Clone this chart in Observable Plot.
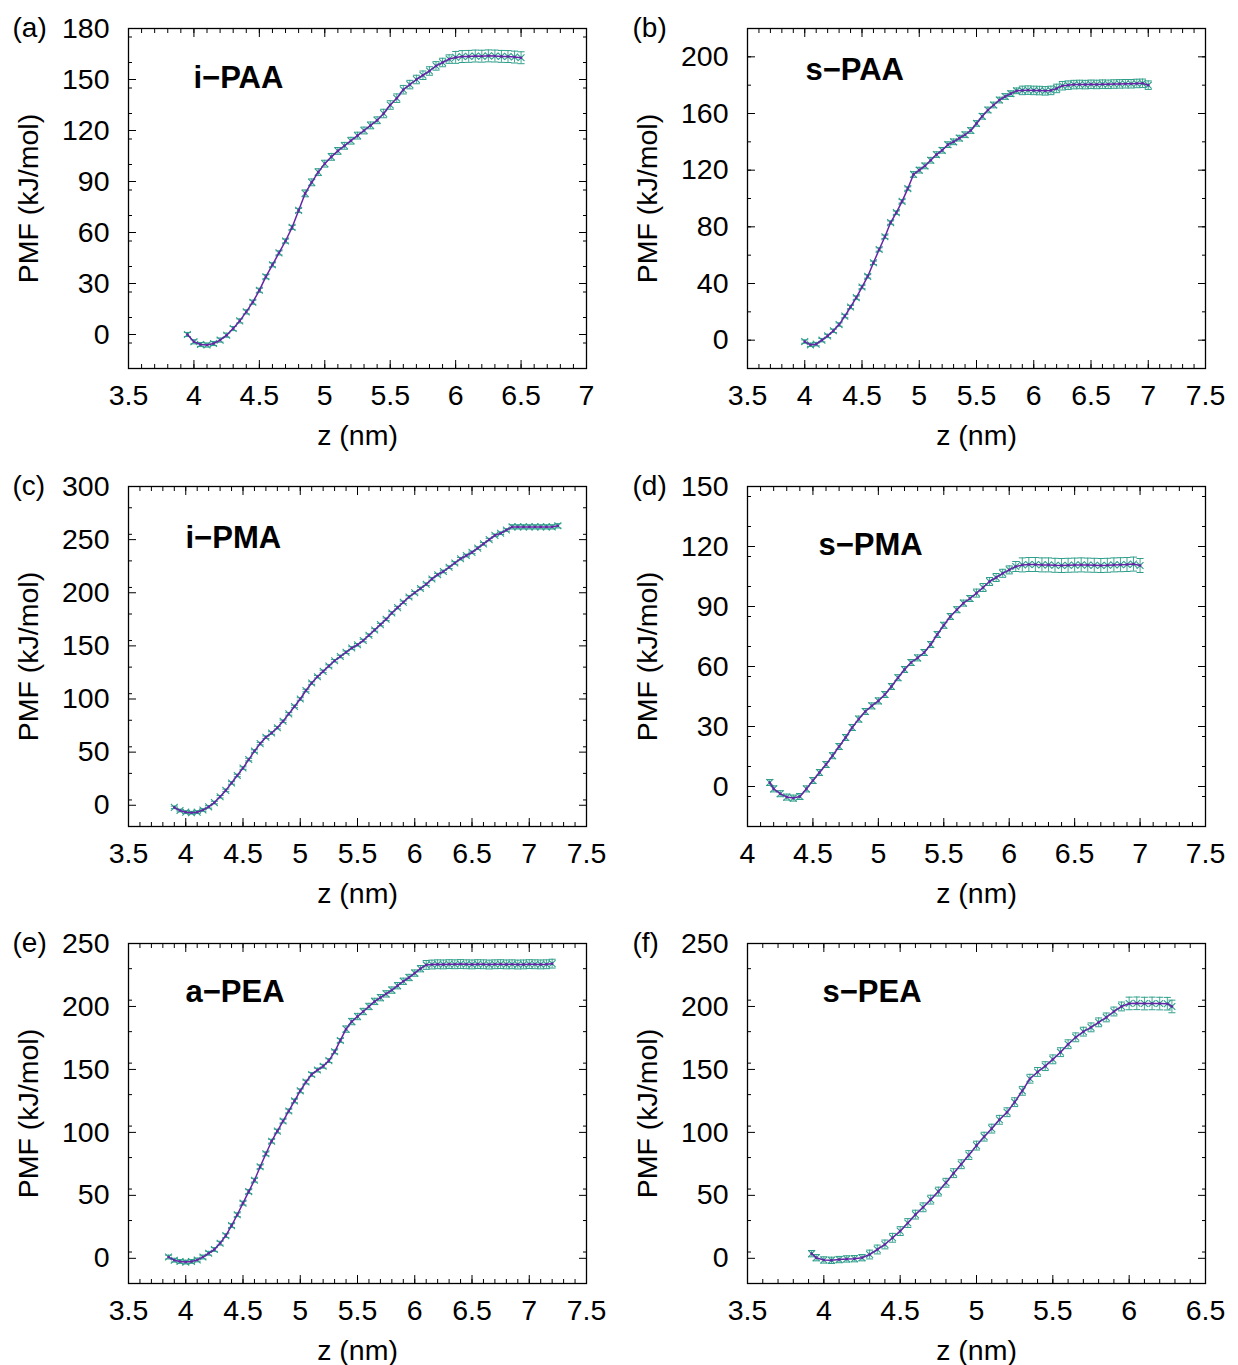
<!DOCTYPE html>
<html>
<head>
<meta charset="utf-8">
<script src="https://cdn.jsdelivr.net/npm/d3@7"></script>
<script src="https://cdn.jsdelivr.net/npm/@observablehq/plot@0.6"></script>
<style>
  html, body { margin: 0; padding: 0; background: #fff; }
  #wrap { position: relative; width: 1238px; height: 1365px; background: #fff; overflow: hidden; }
  #wrap svg { position: absolute; }
</style>
</head>
<body>
<div id="wrap"></div>
<script>
// ---------- (a) i-PAA ----------
const aZ   = [3.95,4.00,4.05,4.10,4.15,4.20,4.25,4.30,4.35,4.40,4.45,4.50,4.55,4.60,4.65,4.70,4.75,4.80,4.85,4.90,4.95,5.00,5.05,5.10,5.15,5.20,5.25,5.30,5.35,5.40,5.45,5.50,5.55,5.60,5.65,5.70,5.75,5.80,5.85,5.90,5.95,6.00,6.05,6.10,6.15,6.20,6.25,6.30,6.35,6.40,6.45,6.50];
const aPMF = [0,-4.3,-5.9,-6.2,-5.3,-3.3,-0.4,3.5,8,13.3,19,26,34,41,48,55,63,73,83,89.5,95.5,100.5,104.5,108,111,114,117,120,123,126,130,135,139,144,147,150,152.5,155,158,160,162,163,163.5,163.6,163.8,163.7,163.9,163.8,163.6,163.5,163.2,162.8];
const aErr = [1.2,1.2,1.2,1.2,1.2,1.2,1.2,1.2,1.2,1.2,1.2,1.2,1.2,1.2,1.2,1.2,1.2,1.2,2,2,2,2,2,2,2,2,2,2,2,2,2.5,2.5,2.5,2.5,2.5,2.5,2.5,2.5,2.5,2.5,2.5,3.5,3.5,3.5,3.5,3.5,3.5,3.5,3.5,3.5,3.5,3.5];

// ---------- (b) s-PAA ----------
const bZ   = [4.00,4.05,4.10,4.15,4.20,4.25,4.30,4.35,4.40,4.45,4.50,4.55,4.60,4.65,4.70,4.75,4.80,4.85,4.90,4.95,5.00,5.05,5.10,5.15,5.20,5.25,5.30,5.35,5.40,5.45,5.50,5.55,5.60,5.65,5.70,5.75,5.80,5.85,5.90,5.95,6.00,6.05,6.10,6.15,6.20,6.25,6.30,6.35,6.40,6.45,6.50,6.55,6.60,6.65,6.70,6.75,6.80,6.85,6.90,6.95,7.00];
const bPMF = [-1,-3.3,-2.8,0,3,6.6,11,17,23.4,30,37.5,45,54.6,64,73,83,90,98,107,117,120,123,127,131,134,138,140,142.6,145,148,153,158,162.5,166,169.5,172,174,176,176.3,176.5,176.3,176.2,176,176.3,177.7,179.6,180,180.4,180.5,180.4,180.6,180.5,180.7,180.6,180.8,180.9,181,181,181.2,181.3,180];
const bErr = [1.2,1.2,1.2,1.2,1.2,1.2,1.2,1.2,1.2,1.2,1.2,1.2,1.2,1.2,1.2,1.2,1.2,1.2,1.2,2,2,2,2,2,2,2,2,2,2,2,2,2,2,2,2,2,2,2,3,3,3,3,3,3,3,3,3,3,3,3,3,3,3,3,3,3,3,3,3,3,3];

// ---------- (c) i-PMA ----------
const cZ   = [3.90,3.95,4.00,4.05,4.10,4.15,4.20,4.25,4.30,4.35,4.40,4.45,4.50,4.55,4.60,4.65,4.70,4.75,4.80,4.85,4.90,4.95,5.00,5.05,5.10,5.15,5.20,5.25,5.30,5.35,5.40,5.45,5.50,5.55,5.60,5.65,5.70,5.75,5.80,5.85,5.90,5.95,6.00,6.05,6.10,6.15,6.20,6.25,6.30,6.35,6.40,6.45,6.50,6.55,6.60,6.65,6.70,6.75,6.80,6.85,6.90,6.95,7.00,7.05,7.10,7.15,7.20,7.25];
const cPMF = [-2,-5,-6.5,-7,-6.5,-4.5,-1.5,2.5,8,14,21,28,35,43,51,58,64,68,73,79,86,93,100,108,115,121,126,131,136,140,144,148,151,155,160,165,170,175,181,186,191,196,200,204,208,213,217,220,224,228,232,235,238,242,246,250,254,256,259,262,262,262,262,262,262,262,262,263];
const cErr = [1.2,1.2,1.2,1.2,1.2,1.2,1.2,1.2,1.2,1.2,1.2,1.2,1.2,1.2,1.2,1.2,1.2,1.2,1.2,1.2,1.2,1.2,1.2,1.2,1.2,1.2,1.2,1.2,1.2,1.2,1.2,1.2,1.2,1.2,1.2,1.2,1.2,1.2,1.2,1.2,1.2,1.2,1.2,1.2,1.2,1.2,1.2,1.2,1.2,1.2,1.2,1.2,1.2,1.2,1.2,1.2,1.2,1.2,1.2,2,2,2,2,2,2,2,2,2];

// ---------- (d) s-PMA ----------
const dZ   = [4.17,4.20,4.25,4.30,4.35,4.40,4.45,4.50,4.55,4.60,4.65,4.70,4.75,4.80,4.85,4.90,4.95,5.00,5.05,5.10,5.15,5.20,5.25,5.30,5.35,5.40,5.45,5.50,5.55,5.60,5.65,5.70,5.75,5.80,5.85,5.90,5.95,6.00,6.05,6.10,6.15,6.20,6.25,6.30,6.35,6.40,6.45,6.50,6.55,6.60,6.65,6.70,6.75,6.80,6.85,6.90,6.95,7.00];
const dPMF = [2,-1.2,-3.6,-5.3,-5.8,-5,-1.2,3,7,11,15.4,20,24.5,29.5,33.7,37.5,40.3,42.8,46,50,54.4,58.5,62,64.3,67,71,76,80.6,85,88.4,91.7,94,96.7,99.5,102.5,104.5,106.6,108.3,110,110.8,111,111,110.8,110.8,110.6,110.5,110.6,110.7,110.8,110.7,110.6,110.5,110.6,110.8,110.9,111,111.2,110.5];
const dErr = [1.5,1.5,1.5,1.5,1.5,1.5,1.5,1.5,1.5,1.5,1.5,1.5,1.5,1.5,1.5,1.5,1.5,1.5,1.5,1.5,1.5,1.5,1.5,1.5,1.5,1.5,1.5,1.5,1.5,1.5,1.5,1.5,2,2,2,2,2,2,2.5,3.5,3.5,3.5,3.5,3.5,3.5,3.5,3.5,3.5,3.5,3.5,3.5,3.5,3.5,3.5,3.5,3.5,3.5,3.5];

// ---------- (e) a-PEA ----------
const eZ   = [3.85,3.90,3.95,4.00,4.05,4.10,4.15,4.20,4.25,4.30,4.35,4.40,4.45,4.50,4.55,4.60,4.65,4.70,4.75,4.80,4.85,4.90,4.95,5.00,5.05,5.10,5.15,5.20,5.25,5.30,5.35,5.40,5.45,5.50,5.55,5.60,5.65,5.70,5.75,5.80,5.85,5.90,5.95,6.00,6.05,6.10,6.15,6.20,6.25,6.30,6.35,6.40,6.45,6.50,6.55,6.60,6.65,6.70,6.75,6.80,6.85,6.90,6.95,7.00,7.05,7.10,7.15,7.20];
const ePMF = [1,-1.5,-2.5,-3,-2.5,-1.3,1,4,7,12,18,26,34.6,43.8,53,62,72.7,83,93,101,109,117,125,133,140,146,149.5,152.5,157,164,173,182,188,192,196,200,204,207,210,213,216.5,220,223,226.5,230,233,233.3,233.5,233.4,233.6,233.5,233.7,233.5,233.4,233.6,233.5,233.3,233.5,233.6,233.4,233.5,233.3,233.4,233.6,233.5,233.4,233.5,234];
const eErr = [1.5,1.5,1.5,1.5,1.5,1.5,1.5,1.5,1.5,1.5,1.5,1.5,1.5,1.5,1.5,1.5,1.5,1.5,1.5,1.5,1.5,1.5,1.5,1.5,1.5,1.5,1.5,1.5,1.5,1.5,1.5,2.5,2.5,2.5,2.5,2.5,2.5,2.5,2.5,2.5,2.5,2.5,2.5,2.5,2.5,3.5,3.5,3.5,3.5,3.5,3.5,3.5,3.5,3.5,3.5,3.5,3.5,3.5,3.5,3.5,3.5,3.5,3.5,3.5,3.5,3.5,3.5,3.5];

// ---------- (f) s-PEA ----------
const fZ   = [3.92,3.95,4.00,4.05,4.10,4.15,4.20,4.25,4.30,4.35,4.40,4.45,4.50,4.55,4.60,4.65,4.70,4.75,4.80,4.85,4.90,4.95,5.00,5.05,5.10,5.15,5.20,5.25,5.30,5.35,5.40,5.45,5.50,5.55,5.60,5.65,5.70,5.75,5.80,5.85,5.90,5.95,6.00,6.05,6.10,6.15,6.20,6.25,6.28];
const fPMF = [3.7,0.5,-1.3,-1.6,-1,-0.5,-0.3,0.5,3,7,11,16.3,21.6,28,34.7,40.5,46.6,53,60,67.6,74.7,82,89.5,96.6,103,110,116,124,133,142.6,148,152.6,158,163.7,170,175.5,180,183.4,187.4,191.3,196,200,202.4,202.5,202.3,202.4,202.3,202.2,200];
const fErr = [2.5,2.5,2.5,2.5,2.5,2.5,2.5,2.5,3.5,3.5,3.5,3.5,3.5,3.5,3.5,3.5,3.5,3.5,3.5,3.5,3.5,3.5,3.5,3.5,3.5,3.5,3.5,3.5,3.5,3.5,3.5,3.5,3.5,3.5,3.5,3.5,3.5,3.5,3.5,3.5,3.5,3.5,5,5,5,5,5,5,5];

// ---------- tick labels ----------
const aXTicks = [3.5,4,4.5,5,5.5,6,6.5,7];
const aYTicks = [0,30,60,90,120,150,180];
const bXTicks = [3.5,4,4.5,5,5.5,6,6.5,7,7.5];
const bYTicks = [0,40,80,120,160,200];
const cXTicks = [3.5,4,4.5,5,5.5,6,6.5,7,7.5];
const cYTicks = [0,50,100,150,200,250,300];
const dXTicks = [4,4.5,5,5.5,6,6.5,7,7.5];
const dYTicks = [0,30,60,90,120,150];
const eXTicks = [3.5,4,4.5,5,5.5,6,6.5,7,7.5];
const eYTicks = [0,50,100,150,200,250];
const fXTicks = [3.5,4,4.5,5,5.5,6,6.5];
const fYTicks = [0,50,100,150,200,250];

const panelLetters = ["(a)","(b)","(c)","(d)","(e)","(f)"];
const panelTitles  = ["i\u2212PAA","s\u2212PAA","i\u2212PMA","s\u2212PMA","a\u2212PEA","s\u2212PEA"];
const xLabel = "z (nm)";
const yLabel = "PMF (kJ/mol)";

// ---------- drawing ----------
const purple = "#6526a6";
const teal = "#2f9f8b";
const capSymbol = {
  draw(ctx, size) { const r = Math.sqrt(size) * 0.9; ctx.moveTo(-r, 0); ctx.lineTo(r, 0); }
};

const panels = [
  {z:aZ, pmf:aPMF, err:aErr, xt:aXTicks, yt:aYTicks, xd:[3.5,7],   yd:[-20,180], ym:15, col:0, row:0, tdx:65, tdy:50},
  {z:bZ, pmf:bPMF, err:bErr, xt:bXTicks, yt:bYTicks, xd:[3.5,7.5], yd:[-20,220], ym:20, col:1, row:0, tdx:58, tdy:42},
  {z:cZ, pmf:cPMF, err:cErr, xt:cXTicks, yt:cYTicks, xd:[3.5,7.5], yd:[-20,300], ym:25, col:0, row:1, tdx:57, tdy:52},
  {z:dZ, pmf:dPMF, err:dErr, xt:dXTicks, yt:dYTicks, xd:[4,7.5],   yd:[-20,150], ym:15, col:1, row:1, tdx:71, tdy:59},
  {z:eZ, pmf:ePMF, err:eErr, xt:eXTicks, yt:eYTicks, xd:[3.5,7.5], yd:[-20,250], ym:25, col:0, row:2, tdx:57, tdy:49},
  {z:fZ, pmf:fPMF, err:fErr, xt:fXTicks, yt:fYTicks, xd:[3.5,6.5], yd:[-20,250], ym:25, col:1, row:2, tdx:75, tdy:49}
];

const rowTops = [0, 458, 915];
const wrap = document.getElementById("wrap");

panels.forEach((p, i) => {
  const rows = p.z.map((z, k) => ({z, pmf: p.pmf[k], err: p.err[k]}));
  const xMinor = d3.range(Math.round(p.xd[0] * 10), Math.round(p.xd[1] * 10) + 1).map(v => v / 10);
  const yMinor = d3.range(p.yd[0], p.yd[1] + 0.001, p.ym).filter(v => v > p.yd[0] && v < p.yd[1]);
  const left = p.col === 0;
  const width = left ? 620 : 618;
  const marginLeft = left ? 128 : 127;
  const marginRight = left ? 34 : 33;
  const blank = () => "";
  const svg = Plot.plot({
    width, height: 458,
    marginLeft, marginRight, marginTop: 28, marginBottom: 90,
    x: {domain: p.xd},
    y: {domain: p.yd},
    style: {fontFamily: "'Liberation Sans', Arial, Helvetica, sans-serif", fontSize: "28.5px", background: "transparent", overflow: "visible", color: "#000"},
    marks: [
      // minor ticks (inward)
      Plot.axisX(xMinor, {anchor: "bottom", tickSize: -4, tickFormat: blank, label: null}),
      Plot.axisX(xMinor, {anchor: "top", tickSize: -4, tickFormat: blank, label: null}),
      Plot.axisY(yMinor, {anchor: "left", tickSize: -4, tickFormat: blank, label: null}),
      Plot.axisY(yMinor, {anchor: "right", tickSize: -4, tickFormat: blank, label: null}),
      // major ticks (inward)
      Plot.axisX(p.xt, {anchor: "top", tickSize: -8, tickFormat: blank, label: null}),
      Plot.axisY(p.yt, {anchor: "right", tickSize: -8, tickFormat: blank, label: null}),
      Plot.axisX(p.xt, {anchor: "bottom", tickSize: -8, tickFormat: blank, label: null}),
      Plot.axisY(p.yt, {anchor: "left", tickSize: -8, tickFormat: blank, label: null}),
      // labels
      Plot.axisX(p.xt, {anchor: "bottom", tickSize: 0, tickPadding: 16, tickFormat: d => String(d),
        label: xLabel, labelAnchor: "center", labelArrow: "none", labelOffset: 76}),
      Plot.axisY(p.yt, {anchor: "left", tickSize: 0, tickPadding: 19, tickFormat: d => String(d),
        label: yLabel, labelAnchor: "center", labelArrow: "none", labelOffset: 111}),
      Plot.frame({stroke: "#000", strokeWidth: 1.3}),
      // error bars
      Plot.ruleX(rows, {x: "z", y1: d => d.pmf - d.err, y2: d => d.pmf + d.err, stroke: teal, strokeWidth: 1, strokeOpacity: 0.9}),
      Plot.dot(rows, {x: "z", y: d => d.pmf + d.err, symbol: capSymbol, r: 2.2, stroke: teal, strokeWidth: 1, fill: "none"}),
      Plot.dot(rows, {x: "z", y: d => d.pmf - d.err, symbol: capSymbol, r: 2.2, stroke: teal, strokeWidth: 1, fill: "none"}),
      Plot.dot(rows, {x: "z", y: "pmf", symbol: "times", r: 3.2, stroke: teal, strokeWidth: 1.1}),
      // PMF line
      Plot.line(rows, {x: "z", y: "pmf", stroke: purple, strokeWidth: 1.5}),
      Plot.dot(rows, {x: "z", y: "pmf", r: 1.3, fill: purple, stroke: "none"}),
      // panel title & letter
      Plot.text([panelTitles[i]], {frameAnchor: "top-left", dx: p.tdx, dy: p.tdy, text: d => d,
        textAnchor: "start", lineAnchor: "middle", fontWeight: "bold", fontSize: 31, fill: "#000"}),
      Plot.text([panelLetters[i]], {frameAnchor: "top-left", dx: left ? -116 : -115, dy: 0, text: d => d,
        textAnchor: "start", lineAnchor: "middle", fontSize: 28, fill: "#000"})
    ]
  });
  svg.style.left = (left ? 0 : 620) + "px";
  svg.style.top = rowTops[p.row] + "px";
  wrap.appendChild(svg);
});
</script>
</body>
</html>
